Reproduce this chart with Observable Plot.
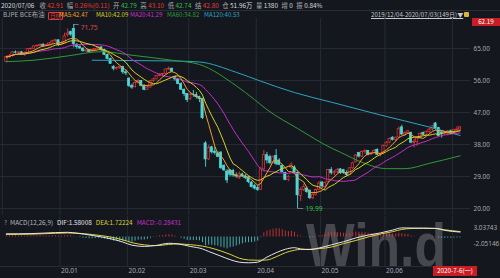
<!DOCTYPE html>
<html><head><meta charset="utf-8">
<script src="https://cdn.jsdelivr.net/npm/d3@7"></script>
<script src="https://cdn.jsdelivr.net/npm/@observablehq/plot@0.6"></script>
<style>
body{margin:0;background:#14171d;}
#wrap{position:relative;width:500px;height:278px;overflow:hidden;background:#14171d;font-family:"Noto Sans CJK SC","Noto Sans",sans-serif;color:#b4b8c0;}
.t{position:absolute;white-space:nowrap;font-size:6.4px;line-height:8px;}
.r{color:#e23a3a}.g{color:#2fbf4f}.w{color:#d8dade}
#main,#macd{position:absolute;left:0;}
#main{top:18px}#macd{top:216px}
#wmsvg{position:absolute;left:0;top:0;}
.box{position:absolute;background:#c81e23;color:#fff;font-size:6.3px;line-height:8px;text-align:center;}
</style></head><body><div id="wrap">
<div id="hdr1" class="t" style="left:1px;top:2px"></div>
<div style="position:absolute;left:0;top:10px;width:500px;height:1px;background:#2a2e36"></div>
<div class="t" style="left:3px;top:11px;color:#a8acb4">BJPE BCE布油</div>
<div class="t" style="left:48px;top:11.5px;color:#e23a3a;border:0.6px solid #e23a3a;border-radius:1px;padding:0 1px;font-size:5.6px;line-height:6px">日线</div>
<div id="hdr2"></div>
<div class="t" style="left:371px;top:11px;font-size:6.1px;color:#c8cad0;text-decoration:underline;">2019/12/04-2020/07/03(149日)▼</div>
<div style="position:absolute;left:464px;top:12px;width:5px;height:5px;background:#d9b43a;border-radius:1px"></div>
<svg id="wmsvg" width="500" height="278"><text x="306" y="266" font-family="Liberation Sans, Arial, sans-serif" font-weight="bold" font-size="61" textLength="140" lengthAdjust="spacingAndGlyphs" fill="rgba(140,140,145,0.42)">Win.d</text></svg>
<div id="main"></div>
<div id="macd"></div>
<div class="box" style="left:472px;top:18px;width:28px;height:8px">62.19</div>
<div class="t" style="left:4px;top:219px;color:#8a8e96">?</div>
<div id="hdr3" class="t" style="left:10px;top:219px"></div>
<div class="box" style="left:433px;top:266px;width:44px;height:10px;line-height:10px">2020-7-6(一)</div>
</div>
<script>
// ---------- data ----------
const open = [61.2,62.6,62.9,63.9,63.8,63.9,63.3,63.7,64.8,64.9,65.6,65.7,66.0,65.7,66.0,66.4,67.0,67.3,
66.0,66.5,68.8,69.6,70.5,66.0,65.4,65.0,64.2,64.5,64.0,64.6,64.9,65.3,64.6,63.2,62.0,59.8,59.3,59.5,59.8,58.3,
56.5,54.5,54.1,55.3,55.9,54.5,53.3,54.0,55.8,56.3,57.3,57.7,57.8,59.1,59.3,57.0,56.3,55.0,53.4,52.2,
50.8,52.0,51.9,51.3,50.8,38.3,33.8,37.2,36.0,35.5,35.7,32.0,30.4,30.7,30.6,29.3,28.5,29.6,29.0,28.7,27.3,26.3,
25.8,25.3,31.0,35.0,34.5,32.8,34.8,33.5,32.0,30.0,28.0,31.5,31.5,30.0,23.5,25.2,25.6,25.0,22.9,23.8,25.2,
27.3,26.0,27.5,30.8,29.9,30.2,31.0,30.8,30.0,29.4,31.3,33.0,35.6,34.6,35.9,36.2,35.2,35.6,36.5,35.1,35.4,
37.6,38.5,39.9,39.3,40.0,42.8,40.8,41.2,41.2,38.5,38.7,39.7,41.2,40.7,41.5,42.2,43.9,42.6,41.4,41.0,41.1,41.7,
41.2,42.0,42.2];
const high = [62.9,63.3,64.1,64.3,64.1,64.2,64.0,65.0,65.2,65.8,66.0,66.3,66.4,66.2,66.6,67.3,67.6,67.4,
66.9,69.3,70.5,69.9,71.75,66.4,65.9,65.1,64.8,64.6,64.8,65.0,65.6,65.5,64.8,63.4,62.3,60.2,59.8,60.0,60.0,58.9,
56.8,55.0,56.0,56.3,56.0,54.8,54.5,56.0,56.6,57.4,57.9,58.0,59.2,59.8,59.5,57.2,56.6,55.3,53.6,52.3,
52.5,53.2,52.6,51.6,51.0,38.8,37.8,37.5,37.2,36.0,36.0,32.3,31.0,30.9,31.0,30.0,30.3,29.9,29.5,29.1,27.6,26.8,
26.5,31.5,36.3,35.8,35.0,34.8,36.6,34.0,32.3,30.2,29.3,32.8,32.0,30.3,25.8,26.8,26.0,25.2,24.2,25.5,27.6,
27.6,27.5,31.0,31.5,30.6,31.2,31.2,31.0,30.6,31.5,33.0,35.2,35.8,36.2,36.6,36.3,35.8,36.6,36.8,35.6,37.8,
38.8,39.8,40.2,40.1,42.9,43.4,41.6,42.0,41.5,39.5,39.9,41.3,41.5,41.8,42.5,43.3,44.2,42.8,41.6,41.6,42.0,42.1,
42.3,43.0,43.0];
const low = [60.9,62.3,62.6,63.4,63.2,63.0,62.8,63.5,64.5,64.7,65.2,65.4,65.5,65.5,65.9,66.3,66.8,65.6,
65.8,66.3,68.2,68.4,65.2,64.8,64.7,64.0,63.9,63.8,63.8,64.4,64.7,64.2,63.0,61.8,60.5,58.7,58.9,59.1,57.7,57.4,
54.0,53.5,53.9,55.0,54.2,53.1,53.2,53.9,55.5,56.2,57.0,57.2,57.6,58.8,58.2,55.8,54.8,53.2,51.4,49.8,
50.4,51.3,50.8,49.8,45.0,31.6,33.5,35.3,35.0,34.3,31.0,30.4,27.0,28.9,28.8,28.5,28.2,28.7,28.2,27.0,25.8,25.2,
24.8,25.0,30.5,32.5,32.3,32.5,32.0,32.0,30.0,27.8,27.5,31.0,29.8,19.99,22.0,24.8,24.3,22.5,22.5,23.5,25.0,
25.6,25.5,27.2,29.4,29.2,29.8,29.6,29.6,29.0,29.2,31.0,32.8,34.2,34.3,35.2,34.8,35.0,35.3,34.9,34.5,35.2,
37.2,38.2,39.0,38.8,39.8,40.5,40.3,40.9,38.2,37.0,37.5,39.5,40.4,40.3,41.0,41.8,42.0,40.2,39.8,40.6,40.4,41.0,
41.0,41.8,42.1];
const close = [62.6,62.9,63.9,63.8,63.9,63.3,63.7,64.8,64.9,65.6,65.7,66.0,65.7,66.0,66.4,67.0,67.3,66.0,
66.5,68.4,69.2,68.9,66.2,65.4,65.0,64.2,64.5,64.0,64.6,64.9,65.3,64.6,63.2,62.0,60.7,59.3,59.5,59.8,58.3,58.0,
54.5,54.0,55.3,55.9,54.5,53.3,54.0,55.8,56.3,57.3,57.7,57.8,59.1,59.3,58.5,56.3,55.0,53.4,52.2,50.5,
52.0,51.9,51.3,50.8,45.4,33.8,37.0,35.8,35.6,34.5,31.3,30.7,27.9,29.5,29.3,29.0,29.6,29.0,28.5,27.4,26.0,25.6,
25.2,31.0,35.0,33.5,32.8,34.4,32.5,32.3,30.2,28.0,28.8,32.4,30.0,23.7,25.2,26.0,24.6,22.9,23.8,25.2,27.0,
26.2,27.2,30.8,29.9,30.2,30.9,29.9,30.0,29.4,31.3,32.7,34.9,34.6,35.9,36.1,35.1,35.6,36.2,35.1,35.3,37.6,
38.5,39.6,39.3,39.9,42.3,40.8,41.2,41.7,38.5,38.7,39.7,41.0,40.7,41.5,42.2,43.1,42.6,40.4,41.0,41.1,41.7,41.2,
42.0,42.2,42.8];

const ma60Idx = [0,9,20,31,41,54,63,75,81,85,95,106,109,116,124,130,138,148];
const ma60Val = [61.3,61.7,62.9,64.1,63.1,61.7,60.5,54.5,50.6,47.8,42.5,37.0,35.8,33.0,31.2,31.2,32.7,34.82];
const ma120Idx = [28,41,54,63,75,83,94,106,122,138,148];
const ma120Val = [61.7,61.6,61.5,61.2,58.3,55.8,52.6,49.9,46.3,42.9,40.53];

const difIdx = [0,8,16,20,23,28,34,38,41,45,49,53,56,60,64,66,70,73,76,79,82,85,88,91,94,96,99,102,106,110,114,118,122,126,129,132,136,140,143,148];
const difVal = [1.0,1.08,1.4,1.5,1.2,0.5,-0.55,-1.6,-2.6,-3.0,-2.65,-2.0,-2.2,-3.0,-3.8,-4.6,-6.1,-7.2,-8.0,-8.2,-8.0,-6.4,-5.0,-3.9,-3.4,-3.8,-4.0,-3.5,-2.5,-1.5,-0.3,0.6,1.3,2.2,2.9,2.85,2.8,2.75,2.1,1.58];
const deaIdx = difIdx;
const deaVal = [0.82,0.9,1.18,1.28,1.22,0.78,0.0,-0.9,-1.8,-2.5,-2.75,-2.35,-2.2,-2.45,-2.9,-3.3,-4.45,-5.5,-6.75,-7.3,-7.4,-7.3,-6.3,-5.0,-4.2,-3.95,-3.9,-3.7,-3.2,-2.1,-1.1,0.0,0.95,1.7,2.4,2.7,2.8,2.7,2.3,1.72];
const macdHist = [0.35,0.38,0.42,0.40,0.38,0.32,0.30,0.34,0.36,0.40,0.40,0.40,0.36,0.34,0.36,0.42,0.44,0.30,
0.24,0.36,0.44,0.40,0.14,-0.05,-0.2,-0.38,-0.45,-0.55,-0.55,-0.5,-0.45,-0.5,-0.65,-0.85,-1.1,-1.35,-1.4,-1.35,-1.4,-1.4,
-1.6,-1.6,-1.3,-1.0,-0.95,-0.95,-0.75,-0.4,-0.1,0.2,0.4,0.5,0.65,0.7,0.6,0.3,0.0,-0.35,-0.7,-1.1,
-1.1,-1.1,-1.1,-1.2,-1.8,-2.8,-2.6,-2.6,-2.8,-2.9,-3.3,-3.5,-3.8,-3.4,-3.2,-2.9,-2.5,-2.2,-1.9,-1.8,-1.8,-1.6,
-1.3,-0.2,1.3,1.9,2.2,2.5,2.6,2.6,2.3,1.9,1.7,1.8,1.5,0.6,0.3,0.1,-0.1,-0.3,-0.2,0.1,0.4,
0.5,0.8,1.3,1.4,1.4,1.4,1.3,1.2,1.0,1.1,1.3,1.6,1.5,1.5,1.4,1.2,1.1,1.0,0.8,0.7,0.9,
1.0,1.1,1.0,1.0,1.2,1.0,0.9,0.8,0.3,0.1,0.0,0.1,0.0,0.0,0.1,0.2,0.1,-0.3,-0.4,-0.45,-0.4,-0.45,
-0.35,-0.32,-0.28];

const monthStarts = [18,40,60,82,103,124,146];
const monthLabels = ["20.01","20.02","20.03","20.04","20.05","20.06"];
const priceTicks = [20,29,38,47,56,65];
const macdTicks = [3.03743,-2.05146];

const headerDate = "2020/07/06";
const quoteLabels = ["收","幅","开","高","低","结","仓","量","增","振"];
const quoteValues = ["42.91","0.26%(0.11)","42.79","43.10","42.74","42.80","51.96万","1380","0","0.84%"];
const quoteColors = ["r","r","g","r","g","r","w","w","w","w"];
const maNames = ["MA5","MA10","MA20","MA60","MA120"];
const maValues = ["42.47","42.09","41.29","34.82","40.53"];
const macdNames = ["MACD(12,26,9)","DIF","DEA","MACD"];
const macdValues = ["","1.58008","1.72224","-0.28431"];

// ---------- styles ----------
const BG = "#14171d", GRID = "#272b33";
const UP = "#e8383b", DOWN = "#4fd6d6";
const maColors = ["#f0a030","#d9d228","#c52fc8","#2f9a3a","#2ea3c4"];
const maLeft = [59,96,130,167,204];
const DIFC = "#e4e6ea", DEAC = "#dcd23a", MACDC = "#c52fc8";
const xDomain = [-1.9, 151.4];

// ---------- header ----------
const h1 = document.getElementById("hdr1");
h1.innerHTML = `<span class="w" style="margin-right:5px">${headerDate}</span>` +
  quoteLabels.map((l,k)=>`<span style="color:#a8acb4">${l}</span> <span class="${quoteColors[k]}" style="margin-right:3.5px">${quoteValues[k]}</span>`).join("");
const h2 = document.getElementById("hdr2");
h2.innerHTML = maNames.map((n,k)=>`<div class="t" style="left:${maLeft[k]}px;top:11px;font-size:6.1px;color:${maColors[k]}">${n}:${maValues[k]}</div>`).join("");
const h3 = document.getElementById("hdr3");
const macdCols = ["#b4b8c0", DIFC, DEAC, MACDC];
h3.innerHTML = macdNames.map((n,k)=>`<span style="color:${macdCols[k]};margin-right:4px">${n}${macdValues[k]?":"+macdValues[k]:""}</span>`).join("");

// ---------- tables ----------
const candles = close.map((c,i)=>({i, o:open[i], h:high[i], l:low[i], c}));
const isUp = d => d.c >= d.o;
const ma60 = ma60Idx.map((i,k)=>({i, v:ma60Val[k]}));
const ma120 = ma120Idx.map((i,k)=>({i, v:ma120Val[k]}));
const dif = difIdx.map((i,k)=>({i, v:difVal[k]}));
const dea = deaIdx.map((i,k)=>({i, v:deaVal[k]}));
const hist = macdHist.map((v,i)=>({i, v}));
const hiIdx = d3.maxIndex(high), loIdx = d3.minIndex(low);
const hiPt = [{i:hiIdx, v:high[hiIdx]}], loPt = [{i:loIdx, v:low[loIdx]}];

const font = {background:"transparent", color:"#a4a8b0", fontSize:"6.4px", fontFamily:"'Noto Sans','DejaVu Sans',sans-serif", overflow:"visible"};

const main = Plot.plot({
  width:500, height:197, marginLeft:0, marginRight:30, marginTop:0, marginBottom:0,
  style: font,
  x:{domain:xDomain, axis:null},
  y:{domain:[18.03,73.43], axis:"right", ticks:priceTicks, tickFormat:d=>d.toFixed(2), tickSize:0, tickPadding:3, label:null},
  marks:[
    Plot.ruleY(priceTicks, {stroke:GRID, strokeWidth:1}),
    Plot.ruleX(monthStarts, {x:d=>d-0.5, stroke:GRID, strokeWidth:1}),
    Plot.ruleX([xDomain[0]+0.6], {stroke:GRID}),
    Plot.ruleX(candles, {x:"i", y1:"l", y2:"h", stroke:d=>isUp(d)?UP:DOWN, strokeWidth:0.9}),
    Plot.rect(candles, {x1:d=>d.i-0.36, x2:d=>d.i+0.36, y1:d=>Math.min(d.o,d.c), y2:d=>Math.max(d.o,d.c),
      fill:d=>isUp(d)?BG:DOWN, stroke:d=>isUp(d)?UP:DOWN, strokeWidth:0.7}),
    Plot.line(ma120, {x:"i", y:"v", stroke:maColors[4], strokeWidth:1, curve:"monotone-x"}),
    Plot.line(ma60, {x:"i", y:"v", stroke:maColors[3], strokeWidth:1, curve:"monotone-x"}),
    Plot.lineY(candles, Plot.windowY({k:20, anchor:"end"}, {x:"i", y:"c", stroke:maColors[2], strokeWidth:1})),
    Plot.lineY(candles, Plot.windowY({k:10, anchor:"end"}, {x:"i", y:"c", stroke:maColors[1], strokeWidth:1})),
    Plot.lineY(candles, Plot.windowY({k:5, anchor:"end"}, {x:"i", y:"c", stroke:maColors[0], strokeWidth:1})),
    Plot.ruleY(hiPt, {y:"v", x1:"i", x2:d=>d.i+1.8, stroke:"#9a9ea6", strokeWidth:0.7}),
    Plot.text(hiPt, {x:"i", y:"v", text:d=>d.v.toFixed(2), dx:7, dy:3, textAnchor:"start", fill:"#e04848", fontSize:6.6}),
    Plot.ruleY(loPt, {y:"v", x1:"i", x2:d=>d.i+2, stroke:"#9a9ea6", strokeWidth:0.7}),
    Plot.text(loPt, {x:"i", y:"v", text:d=>d.v.toFixed(2), dx:8, textAnchor:"start", fill:"#35c04a", fontSize:6.6})
  ]
});
document.getElementById("main").appendChild(main);

const macd = Plot.plot({
  width:500, height:62, marginLeft:0, marginRight:30, marginTop:0, marginBottom:12,
  style: font,
  x:{domain:xDomain, axis:null},
  y:{domain:[-9.38,6.52], axis:"right", ticks:macdTicks, tickFormat:d=>d.toFixed(5), tickSize:0, tickPadding:3, label:null},
  marks:[
    Plot.ruleX(monthStarts, {x:d=>d-0.5, stroke:GRID, strokeWidth:1}),
    Plot.ruleY([-9.38], {stroke:GRID}),
    Plot.ruleX(hist, {x:"i", y1:0, y2:"v", stroke:d=>d.v>=0?UP:DOWN, strokeWidth:0.8}),
    Plot.line(dea, {x:"i", y:"v", stroke:DEAC, strokeWidth:1, curve:"monotone-x"}),
    Plot.line(dif, {x:"i", y:"v", stroke:DIFC, strokeWidth:1, curve:"monotone-x"}),
    Plot.text(monthLabels, {x:(d,k)=>monthStarts[k]-0.5, frameAnchor:"bottom", dy:6, dx:1, textAnchor:"start", fill:"#a4a8b0", fontSize:6.6})
  ]
});
document.getElementById("macd").appendChild(macd);
</script>
</body></html>
